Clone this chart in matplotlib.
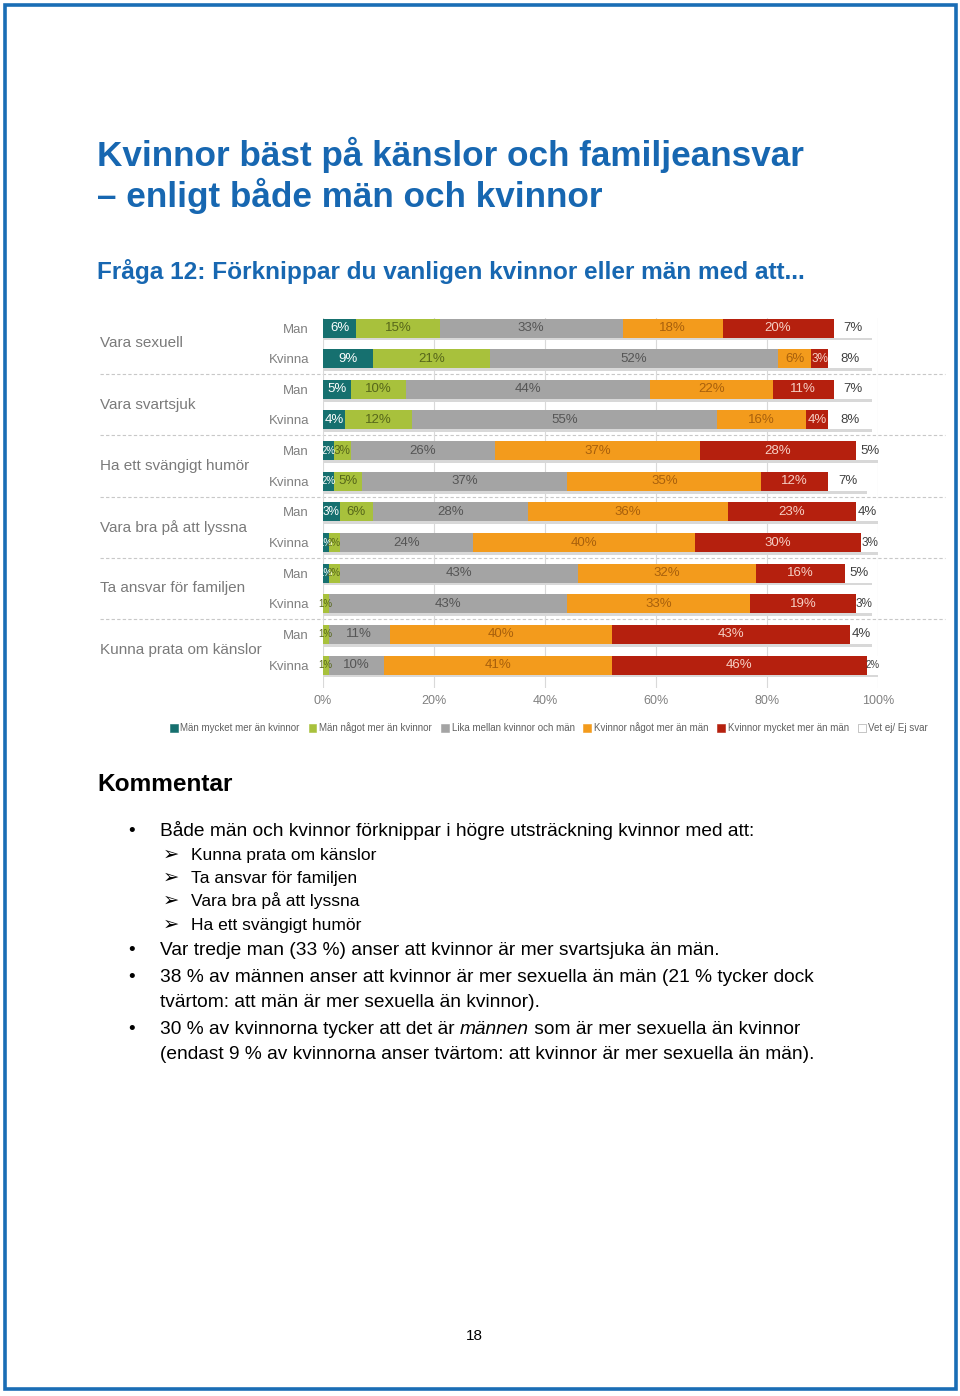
import numpy as np
import matplotlib
matplotlib.use("Agg")
import matplotlib.pyplot as plt
from matplotlib.patches import Rectangle, Patch
from matplotlib.transforms import blended_transform_factory

# kategorier (uppifrån och ned)
grupper = ["Vara sexuell", "Vara svartsjuk", "Ha ett svängigt humör",
           "Vara bra på att lyssna", "Ta ansvar för familjen", "Kunna prata om känslor"]
kon = ["Man", "Kvinna"] * 6

# procent per rad (Man, Kvinna, Man, Kvinna ...)
man_mycket = [6, 9, 5, 4, 2, 2, 3, 1, 1, 0, 0, 0]
man_nagot = [15, 21, 10, 12, 3, 5, 6, 2, 2, 1, 1, 1]
lika = [33, 52, 44, 55, 26, 37, 28, 24, 43, 43, 11, 10]
kv_nagot = [18, 6, 22, 16, 37, 35, 36, 40, 32, 33, 40, 41]
kv_mycket = [20, 3, 11, 4, 28, 12, 23, 30, 16, 19, 43, 46]
vet_ej = [7, 8, 7, 8, 5, 7, 4, 3, 5, 3, 4, 2]

serier = ["Män mycket mer än kvinnor", "Män något mer än kvinnor", "Lika mellan kvinnor och män",
          "Kvinnor något mer än män", "Kvinnor mycket mer än män", "Vet ej/ Ej svar"]
xticks = [0, 20, 40, 60, 80, 100]

farger = ["#16706F", "#A8C13C", "#A4A4A4", "#F39B1C", "#B5200E", "#FFFFFF"]
textfarger = ["#FFFFFF", "#56661A", "#555555", "#A8600C", "#F6CFC4", "#404040"]

W, H = 960, 1396
def fx(px):
    return px / W
def fy(py):
    return 1 - py / H

CHART = ["Liberation Sans Narrow", "Liberation Sans", "DejaVu Sans"]
TEXT = ["Liberation Sans", "DejaVu Sans"]
BLA = "#1767B1"

fig = plt.figure(figsize=(9.6, 13.96), dpi=100)
fig.patch.set_facecolor("white")

# ram runt sidan
fig.patches.append(Rectangle((fx(4.5), fy(1388.5)), fx(951), 1384 / H, transform=fig.transFigure,
                             fill=False, edgecolor="#1A6DB5", linewidth=2.6))

# rubriker
fig.text(fx(97), fy(166), "Kvinnor bäst på känslor och familjeansvar", family=TEXT,
         fontsize=25.3, fontweight="bold", color=BLA, va="baseline")
fig.text(fx(97), fy(207), "– enligt både män och kvinnor", family=TEXT,
         fontsize=25.3, fontweight="bold", color=BLA, va="baseline")
fig.text(fx(97), fy(279), "Fråga 12: Förknippar du vanligen kvinnor eller män med att...", family=TEXT,
         fontsize=17.6, fontweight="bold", color=BLA, va="baseline")

# diagram
ax = fig.add_axes([fx(323), fy(688), fx(555), 370 / H])
data = np.array([man_mycket, man_nagot, lika, kv_nagot, kv_mycket, vet_ej], dtype=float)
y = np.arange(len(kon))
vanster = np.zeros(len(kon))

# skugga under staplarna
ax.barh(y + 0.09, data.sum(axis=0), left=0, height=0.62, color="#d8d8d8", zorder=1)

handles = []
for i in range(len(serier)):
    ax.barh(y, data[i], left=vanster, height=0.62, color=farger[i], zorder=2, edgecolor="none")
    handles.append(Patch(facecolor=farger[i], edgecolor="#999999" if i == 5 else farger[i],
                         linewidth=0.4, label=serier[i]))
    for j in range(len(kon)):
        v = data[i][j]
        if v > 0:
            fs = 9.5 if v > 3 else (8.5 if v == 3 else 7)
            ax.text(vanster[j] + v / 2, y[j], f"{int(v)}%", ha="center", va="center",
                    fontsize=fs, color=textfarger[i], family=CHART, zorder=3)
    vanster += data[i]

ax.set_xlim(0, 100)
ax.set_ylim(11.75, -0.33)
ax.set_xticks(xticks)
ax.set_xticklabels([f"{t}%" for t in xticks], family=CHART, fontsize=9, color="#808080")
ax.set_yticks(y)
ax.set_yticklabels(kon, family=CHART, fontsize=9.5, color="#808080")
for lab in ax.get_yticklabels():
    lab.set_horizontalalignment("right")
ax.tick_params(axis="both", length=0)
ax.tick_params(axis="y", pad=10)
ax.tick_params(axis="x", pad=5)
ax.grid(axis="x", color="#d9d9d9", linewidth=0.8, zorder=0)
ax.set_axisbelow(True)
for s in ax.spines.values():
    s.set_visible(False)

tr = blended_transform_factory(fig.transFigure, ax.transData)
for g in range(len(grupper)):
    ax.text(fx(100), 2 * g + 0.5, grupper[g], transform=tr, ha="left", va="center",
            fontsize=11, color="#7a7a7a", family=CHART)
    if g > 0:
        ax.plot([fx(100), fx(945)], [2 * g - 0.5, 2 * g - 0.5], transform=tr, clip_on=False,
                color="#c8c8c8", linewidth=0.8, linestyle=(0, (3, 2)), zorder=0)

fig.legend(handles=handles, loc="center", bbox_to_anchor=(fx(549), fy(728)), ncol=6,
           frameon=False, handlelength=0.8, handleheight=0.8,
           handletextpad=0.3, columnspacing=0.9, labelcolor="#606060",
           prop={"family": CHART, "size": 7})

# kommentar
fig.text(fx(97), fy(791), "Kommentar", family=TEXT, fontsize=17.6, fontweight="bold",
         color="black", va="baseline")

FS = 13.8
FS2 = 12.5
rader = [
    ("bullet", 836, "Både män och kvinnor förknippar i högre utsträckning kvinnor med att:"),
    ("pil", 860, "Kunna prata om känslor"),
    ("pil", 883, "Ta ansvar för familjen"),
    ("pil", 906, "Vara bra på att lyssna"),
    ("pil", 930, "Ha ett svängigt humör"),
    ("bullet", 955, "Var tredje man (33 %) anser att kvinnor är mer svartsjuka än män."),
    ("bullet", 982, "38 % av männen anser att kvinnor är mer sexuella än män (21 % tycker dock"),
    ("cont", 1007, "tvärtom: att män är mer sexuella än kvinnor)."),
]
for typ, by, txt in rader:
    if typ == "bullet":
        fig.text(fx(128), fy(by), "•", family=TEXT, fontsize=FS, va="baseline")
        fig.text(fx(160), fy(by), txt, family=TEXT, fontsize=FS, va="baseline")
    elif typ == "pil":
        fig.text(fx(163), fy(by), "➢", family=["DejaVu Sans"], fontsize=14, va="baseline")
        fig.text(fx(191), fy(by), txt, family=TEXT, fontsize=FS2, va="baseline")
    else:
        fig.text(fx(160), fy(by), txt, family=TEXT, fontsize=FS, va="baseline")

# sista punkten med kursivt ord
renderer = fig.canvas.get_renderer()
fig.text(fx(128), fy(1034), "•", family=TEXT, fontsize=FS, va="baseline")
t1 = fig.text(fx(160), fy(1034), "30 % av kvinnorna tycker att det är ", family=TEXT,
              fontsize=FS, va="baseline")
x1 = t1.get_window_extent(renderer=renderer).x1
t2 = fig.text(x1 / W, fy(1034), "männen", family=TEXT, fontsize=FS, style="italic", va="baseline")
x2 = t2.get_window_extent(renderer=renderer).x1
fig.text(x2 / W, fy(1034), " som är mer sexuella än kvinnor", family=TEXT, fontsize=FS, va="baseline")
fig.text(fx(160), fy(1059), "(endast 9 % av kvinnorna anser tvärtom: att kvinnor är mer sexuella än män).",
         family=TEXT, fontsize=FS, va="baseline")

fig.text(fx(474), fy(1340), "18", family=TEXT, fontsize=11, ha="center", va="baseline")

fig.savefig("out.png", dpi=100)
